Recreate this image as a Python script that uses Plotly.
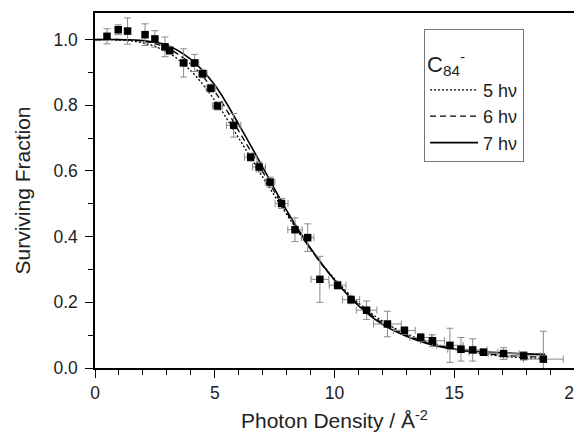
import plotly.graph_objects as go

photon_density = [0.50, 0.97, 1.36, 2.09, 2.50, 2.92, 3.12, 3.70, 4.16, 4.50, 4.84, 5.11,
                  5.79, 6.50, 6.85, 7.31, 7.79, 8.35, 8.88, 9.39, 10.13, 10.69, 11.34,
                  12.21, 12.92, 13.60, 14.09, 14.82, 15.28, 15.77, 16.22, 17.06, 17.90, 18.72]
surviving = [1.010, 1.030, 1.026, 1.015, 1.002, 0.978, 0.967, 0.929, 0.929, 0.896, 0.852, 0.798,
             0.739, 0.642, 0.612, 0.566, 0.501, 0.421, 0.397, 0.270, 0.252, 0.208, 0.176,
             0.134, 0.114, 0.093, 0.083, 0.069, 0.057, 0.055, 0.048, 0.044, 0.037, 0.027]
y_err = [0.023, 0.015, 0.040, 0.033, 0.025, 0.030, 0.012, 0.043, 0.026, 0.012, 0.012, 0.012,
         0.036, 0.012, 0.015, 0.015, 0.015, 0.036, 0.042, 0.070, 0.012, 0.012, 0.028,
         0.039, 0.012, 0.012, 0.018, 0.052, 0.036, 0.034, 0.010, 0.018, 0.013, 0.085]
x_err = [0.03, 0.05, 0.06, 0.08, 0.10, 0.12, 0.13, 0.15, 0.17, 0.18, 0.20, 0.21,
         0.30, 0.26, 0.27, 0.20, 0.27, 0.30, 0.26, 0.37, 0.35, 0.36, 0.43,
         0.58, 0.45, 0.45, 0.50, 0.55, 0.55, 0.60, 0.60, 0.65, 0.70, 0.83]

# ---- fit curves ----
fit_x = [0, 1, 2, 3, 4, 5, 6, 7, 8, 9, 10, 11, 12, 13, 14, 15, 16, 17, 18, 18.8]
fit_5hv = [1.0, 0.999, 0.990, 0.963, 0.905, 0.815, 0.700, 0.582, 0.468, 0.362, 0.272, 0.198,
           0.143, 0.104, 0.077, 0.058, 0.045, 0.036, 0.031, 0.029]
fit_6hv = [1.0, 1.0, 0.995, 0.975, 0.925, 0.842, 0.722, 0.598, 0.474, 0.362, 0.268, 0.193,
           0.138, 0.100, 0.074, 0.057, 0.046, 0.039, 0.035, 0.033]
fit_7hv = [1.0, 1.0, 0.997, 0.983, 0.940, 0.862, 0.742, 0.612, 0.480, 0.365, 0.268, 0.190,
           0.133, 0.097, 0.072, 0.058, 0.050, 0.046, 0.043, 0.042]

FONT = "Arial, Liberation Sans, sans-serif"

fig = go.Figure()
fig.add_trace(go.Scatter(x=fit_x, y=fit_5hv, mode="lines", name="5 hν",
                         line=dict(color="black", width=1.3, dash="2px,2px", shape="spline")))
fig.add_trace(go.Scatter(x=fit_x, y=fit_6hv, mode="lines", name="6 hν",
                         line=dict(color="black", width=1.3, dash="6px,4px", shape="spline")))
fig.add_trace(go.Scatter(x=fit_x, y=fit_7hv, mode="lines", name="7 hν",
                         line=dict(color="black", width=1.6, shape="spline")))
fig.add_trace(go.Scatter(
    x=photon_density, y=surviving, mode="markers", showlegend=False,
    marker=dict(symbol="square", size=7.5, color="black"),
    error_y=dict(type="data", array=y_err, color="#8a8a8a", thickness=1, width=3.5),
    error_x=dict(type="data", array=x_err, color="#8a8a8a", thickness=1, width=3.5),
))

axis_common = dict(showline=True, linecolor="black", linewidth=1.5, mirror=True,
                   ticks="outside", tickcolor="black", ticklen=8, tickwidth=1.2,
                   showgrid=False, zeroline=False, automargin=False,
                   ticklabeloverflow="allow",
                   tickfont=dict(family=FONT, size=17.5, color="#222"))

fig.update_xaxes(range=[0, 20], tickvals=[0, 5, 10, 15, 20],
                 minor=dict(dtick=1, ticks="outside", ticklen=5, tickcolor="black", tickwidth=1),
                 title=dict(text="Photon Density / Å<sup>-2</sup>",
                            font=dict(family=FONT, size=21, color="#222"), standoff=12),
                 **axis_common)
fig.update_yaxes(range=[0, 1.081], tickvals=[0, 0.2, 0.4, 0.6, 0.8, 1.0],
                 ticktext=["0.0", "0.2", "0.4", "0.6", "0.8", "1.0"],
                 ticklabelstandoff=4,
                 minor=dict(dtick=0.1, ticks="outside", ticklen=5, tickcolor="black", tickwidth=1),
                 title=dict(text="Surviving Fraction",
                            font=dict(family=FONT, size=21, color="#222"), standoff=17),
                 **axis_common)

fig.update_layout(
    width=582, height=433,
    margin=dict(l=87, r=16, t=5, b=73),
    paper_bgcolor="white", plot_bgcolor="white",
    font=dict(family=FONT, color="#222"),
    legend=dict(x=0.687, y=0.955, xanchor="left", yanchor="top",
                bgcolor="white", bordercolor="#777", borderwidth=1,
                font=dict(family=FONT, size=18, color="#222"),
                itemwidth=48, tracegroupgap=0,
                title=dict(text="<br><span style='font-size:22px'>C<sub>84</sub><sup>-</sup></span>",
                           font=dict(family=FONT, size=16, color="#222"))),
)

fig.write_html("out.html")
